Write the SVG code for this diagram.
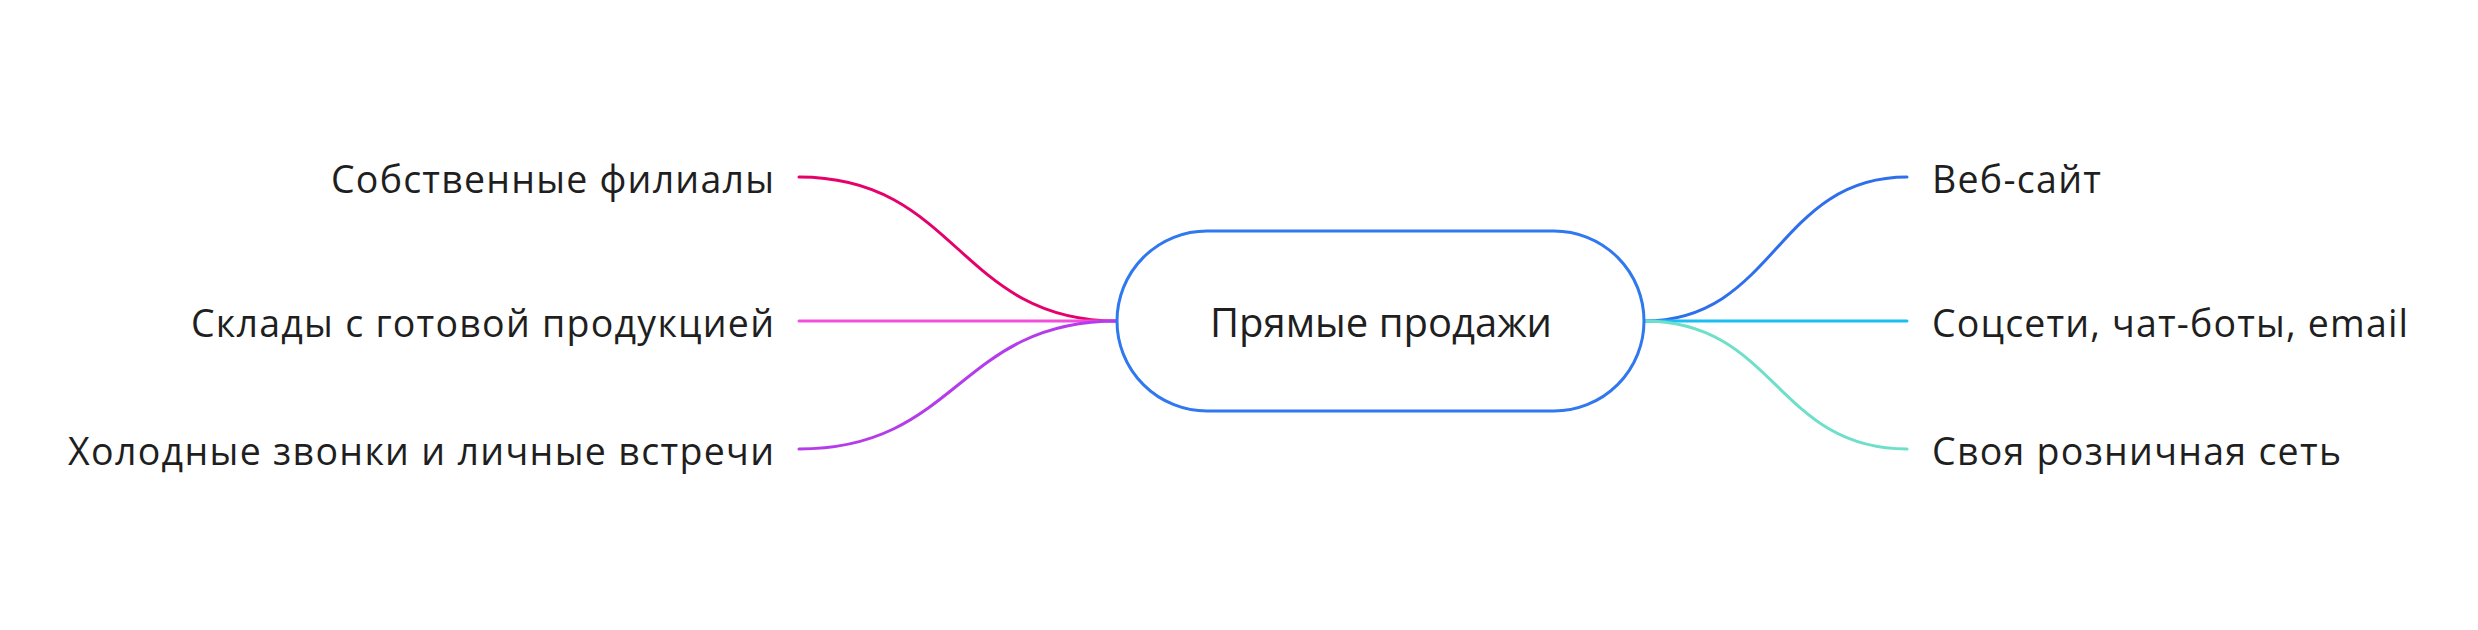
<svg xmlns="http://www.w3.org/2000/svg" width="2478" height="630" viewBox="0 0 2478 630">
<style>
.lbl{font-family:"Open Sans","Noto Sans","DejaVu Sans",sans-serif;font-size:37.5px;fill:#1f1f1f}
.ctr{font-family:"Open Sans","Noto Sans","DejaVu Sans",sans-serif;font-size:40px;fill:#1f1f1f}
.c{fill:none;stroke-width:3;stroke-linecap:round}
</style>
<rect width="2478" height="630" fill="#ffffff"/>
<g id="connectors">
<path class="c" stroke="#E6006B" d="M799,177 C958,177 958,321 1117,321"/>
<path class="c" stroke="#F24FDC" d="M799,321 L1117,321"/>
<path class="c" stroke="#B43CEB" d="M799,449 C958,449 958,321 1117,321"/>
<path class="c" stroke="#2F6FEB" d="M1644,321 C1776,321 1776,177 1907,177"/>
<path class="c" stroke="#1ABEF2" d="M1644,321 L1907,321"/>
<path class="c" stroke="#6EDFC9" d="M1644,321 C1776,321 1776,449 1907,449"/>
</g>
<g id="node-center">
<rect x="1117" y="231" width="527" height="180" rx="90" ry="90" fill="#ffffff" stroke="#2F78F0" stroke-width="3"/>
<text class="ctr" x="1381" y="337" text-anchor="middle">Прямые продажи</text>
</g>
<g id="node-l1"><text class="lbl" x="331" y="193" textLength="443">Собственные филиалы</text></g>
<g id="node-l2"><text class="lbl" x="191" y="337" textLength="583">Склады с готовой продукцией</text></g>
<g id="node-l3"><text class="lbl" x="68" y="465" textLength="706">Холодные звонки и личные встречи</text></g>
<g id="node-r1"><text class="lbl" x="1932" y="193" textLength="169">Веб-сайт</text></g>
<g id="node-r2"><text class="lbl" x="1932" y="337" textLength="476">Соцсети, чат-боты, email</text></g>
<g id="node-r3"><text class="lbl" x="1932" y="465" textLength="409">Своя розничная сеть</text></g>
</svg>
